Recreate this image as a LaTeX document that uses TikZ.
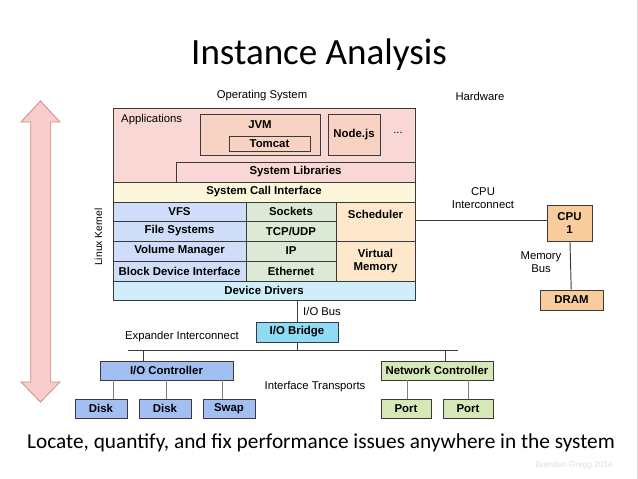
\documentclass[tikz,border=0pt]{standalone}
\usepackage{fontspec}
\setmainfont{Liberation Sans}
\newfontfamily\calib{Carlito}
\definecolor{appc}{HTML}{F9D7D5}
\definecolor{jvmc}{HTML}{F8D2C2}
\definecolor{sysc}{HTML}{FCF7DB}
\definecolor{bluec}{HTML}{CFDDF8}
\definecolor{greenc}{HTML}{DCE9D4}
\definecolor{orangec}{HTML}{FDE8CC}
\definecolor{cyanc}{HTML}{CFEEFA}
\definecolor{cpuc}{HTML}{F9CC9E}
\definecolor{bridgec}{HTML}{8FDBF3}
\definecolor{ioc}{HTML}{A3BFF2}
\definecolor{netc}{HTML}{D6E8B8}
\definecolor{linec}{HTML}{3A3A3A}
\definecolor{arrf}{HTML}{F8CDCB}
\definecolor{arrd}{HTML}{D08A88}
\newcommand\pbox[7]{\node[#1, minimum width={(#5-#3)*0.85pt}, minimum height={(#6-#4)*0.85pt}] (#2) at ({(#3+#5)/2},{(#4+#6)/2}) {#7};}
\tikzset{
  box/.style={draw=linec, line width=0.8pt, inner sep=0pt, font=\fontsize{9.7}{11}\selectfont\bfseries, align=center},
  lbl/.style={inner sep=0pt, font=\fontsize{9.6}{11}\selectfont, align=center},
  wire/.style={draw=linec, line width=0.8pt}
}
\begin{document}
\begin{tikzpicture}[x=0.85pt, y=-0.85pt]
\useasboundingbox (0,0) rectangle (638,479);
\fill[white] (0,0) rectangle (638,479);
\draw[black!15, line width=0.6pt] (637,0) -- (637,479);
% title
\node[inner sep=0pt, font=\calib\fontsize{31.5}{36}\selectfont] (title) at (319,55) {Instance Analysis};
\node[lbl] (os) at (262,96) {Operating System};
\node[lbl] (hw) at (480,96) {Hardware};
% left arrow
\draw[fill=arrf, draw=arrd, line width=0.7pt] (40.5,101) -- (60,122) -- (50.7,122) -- (50.7,382) -- (60,382) -- (40.5,402) -- (21,382) -- (30.7,382) -- (30.7,122) -- (21,122) -- cycle;
% applications
\pbox{box, fill=appc}{apps}{113}{108}{415}{182}{}
\node[lbl, anchor=west] (appl) at (121,120) {Applications};
\pbox{box, fill=jvmc}{jvm}{200}{114}{320}{155}{}
\node[box, draw=none] (jvml) at (260,125) {JVM};
\pbox{box, fill=jvmc}{tomcat}{229}{136}{310}{151}{Tomcat}
\pbox{box, fill=jvmc}{node}{328}{114}{380}{155}{Node.js}
\node[lbl] (dots) at (398,133) {...};
\pbox{box, fill=appc}{syslib}{176}{162}{415}{182}{System Libraries}
\pbox{box, fill=sysc}{sci}{113}{182}{415}{202}{System Call Interface}
% kernel
\pbox{box, fill=bluec}{vfs}{113}{202}{246}{221}{VFS}
\pbox{box, fill=bluec}{fs}{113}{221}{246}{241}{File Systems}
\pbox{box, fill=bluec}{vm}{113}{241}{246}{261}{Volume Manager}
\pbox{box, fill=bluec}{bdi}{113}{261}{246}{281}{Block Device Interface}
\pbox{box, fill=greenc}{sock}{246}{202}{336}{221}{Sockets}
\pbox{box, fill=greenc}{tcp}{246}{221}{336}{241}{TCP/UDP}
\pbox{box, fill=greenc}{ip}{246}{241}{336}{261}{IP}
\pbox{box, fill=greenc}{eth}{246}{261}{336}{281}{Ethernet}
\pbox{box, fill=orangec}{sched}{336}{202}{415}{241}{}
\node[box, draw=none] (schedl) at (375.5,214) {Scheduler};
\pbox{box, fill=orangec}{vmem}{336}{241}{415}{281}{Virtual\\Memory}
\pbox{box, fill=cyanc}{dd}{113}{281}{415}{300}{Device Drivers}
\node[lbl, font=\fontsize{8.8}{10}\selectfont, rotate=90] (lk) at (98.5,237) {Linux Kernel};
% hardware
\pbox{box, fill=cpuc}{cpu}{547}{205}{592}{241}{CPU\\1}
\pbox{box, fill=cpuc}{dram}{540}{290}{603}{310}{DRAM}
\draw[wire] (sched.east |- 0,220) -- (cpu.west |- 0,220);
\node[lbl] (cpuil) at (483,198) {CPU\\Interconnect};
\draw[wire] (cpu) -- (dram);
\node[lbl] (membl) at (541,262) {Memory\\Bus};
% IO
\pbox{box, fill=bridgec}{bridge}{256}{322}{338}{342}{I/O Bridge}
\draw[wire] (dd.south -| bridge.north) -- (bridge.north);
\node[lbl, anchor=west] (iobl) at (303,311) {I/O Bus};
\node[lbl] (expl) at (182,337) {Expander Interconnect};
\coordinate (busl) at (128,350);
\coordinate (busr) at (458,350);
\draw[wire] (busl) -- (busr);
\draw[wire] (bridge.south) -- (bridge.south |- busl);
\pbox{box, fill=ioc}{ioctl}{100}{361}{233}{380}{I/O Controller}
\pbox{box, fill=netc}{netctl}{381}{361}{493}{380}{Network Controller}
\draw[wire] (ioctl.north -| 143,0) -- (busl -| 143,0);
\draw[wire] (netctl.north -| 445,0) -- (busl -| 445,0);
\node[lbl] (itl) at (315,387) {Interface Transports};
\pbox{box, fill=ioc}{disk1}{75}{399}{127}{418}{Disk}
\pbox{box, fill=ioc}{disk2}{139}{399}{191}{418}{Disk}
\pbox{box, fill=ioc}{swap}{203}{399}{255}{418}{Swap}
\pbox{box, fill=netc}{port1}{381}{399}{431}{418}{Port}
\pbox{box, fill=netc}{port2}{443}{399}{493}{418}{Port}
\draw[wire, draw=gray] (ioctl.south -| 113,0) -- (disk1.north -| 113,0);
\draw[wire, draw=gray] (ioctl.south -| 166,0) -- (disk2.north -| 166,0);
\draw[wire, draw=gray] (ioctl.south -| 222,0) -- (swap.north -| 222,0);
\draw[wire, draw=gray] (netctl.south -| 407,0) -- (port1.north -| 407,0);
\draw[wire, draw=gray] (netctl.south -| 468,0) -- (port2.north -| 468,0);
% bottom
\node[inner sep=0pt, font=\calib\fontsize{18.1}{22}\selectfont] (bot) at (321,443) {Locate, quantify, and fix performance issues anywhere in the system};
\node[inner sep=0pt, font=\fontsize{7}{8}\selectfont, text=black!12] (cr) at (574,465) {Brendan Gregg 2014};
\end{tikzpicture}
\end{document}
